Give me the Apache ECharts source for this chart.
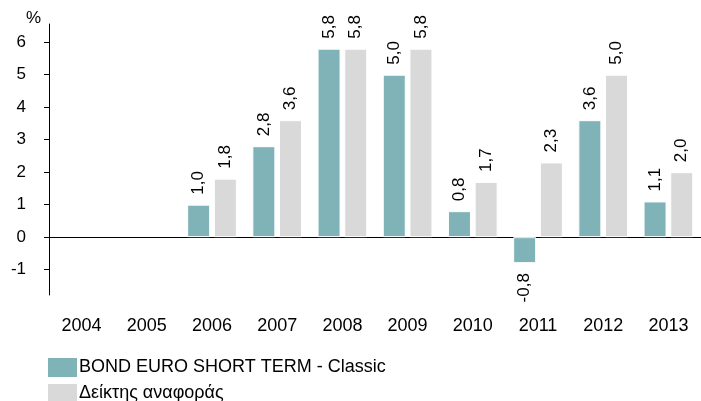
<!DOCTYPE html>
<html>
<head>
<meta charset="utf-8">
<script src="https://cdn.jsdelivr.net/npm/echarts@6/dist/echarts.min.js"></script>
<style>
  html, body { margin: 0; padding: 0; background: #fff; }
  #main { width: 701px; height: 401px; }
</style>
</head>
<body>
<div id="main"></div>
<script>
  // data
  var years = ['2004', '2005', '2006', '2007', '2008', '2009', '2010', '2011', '2012', '2013'];
  var fundValues = [null, null, 1.0, 2.8, 5.8, 5.0, 0.8, -0.8, 3.6, 1.1];
  var benchValues = [null, null, 1.8, 3.6, 5.8, 5.8, 1.7, 2.3, 5.0, 2.0];
  var yTicks = [-1, 0, 1, 2, 3, 4, 5, 6];
  var fundName = 'BOND EURO SHORT TERM - Classic';
  var benchName = 'Δείκτης αναφοράς';

  var font = 'Arial, "Liberation Sans", sans-serif';

  function fmt(p) {
    return p.value == null ? '' : p.value.toFixed(1).replace('.', ',');
  }

  // negative bars get their label under the bar
  function toItems(arr) {
    return arr.map(function (v) {
      if (v != null && v < 0) {
        return { value: v, label: { position: 'bottom', align: 'right' } };
      }
      return v;
    });
  }

  var barLabel = {
    show: true,
    position: 'top',
    rotate: 90,
    align: 'left',
    verticalAlign: 'middle',
    distance: 10,
    fontSize: 17,
    fontFamily: font,
    color: '#000',
    formatter: fmt
  };

  var chart = echarts.init(document.getElementById('main'));
  chart.setOption({
    animation: false,
    title: {
      text: '%',
      left: 26,
      top: 10,
      padding: 0,
      textStyle: { fontSize: 17, fontWeight: 'normal', fontFamily: font, color: '#000' }
    },
    legend: {
      orient: 'vertical',
      left: 46,
      top: 356,
      height: 80,
      padding: 0,
      itemWidth: 31,
      itemHeight: 21,
      itemGap: 3,
      icon: 'rect',
      data: [fundName, benchName],
      textStyle: { fontSize: 18, fontFamily: font, color: '#000', padding: [0, 0, 0, -4] }
    },
    grid: {
      left: 49,
      top: 24,
      width: 661,
      height: 271
    },
    xAxis: {
      type: 'category',
      data: years,
      axisLine: { onZero: true, lineStyle: { color: '#000', width: 1 } },
      axisTick: { show: false },
      axisLabel: { margin: 22, fontSize: 18, fontFamily: font, color: '#000' }
    },
    yAxis: {
      type: 'value',
      min: -1.78,
      max: 6.56,
      splitLine: { show: false },
      axisLine: { show: true, lineStyle: { color: '#000' } },
      axisTick: { show: true, length: 5, customValues: yTicks, lineStyle: { color: '#000' } },
      axisLabel: { customValues: yTicks, margin: 23, fontSize: 17, fontFamily: font, color: '#000' }
    },
    series: [
      {
        name: fundName,
        type: 'bar',
        data: toItems(fundValues),
        barWidth: 23,
        barGap: '16%',
        itemStyle: { color: '#7fb3b8', borderColor: '#fff', borderWidth: 1 },
        label: barLabel
      },
      {
        name: benchName,
        type: 'bar',
        data: toItems(benchValues),
        barWidth: 23,
        itemStyle: { color: '#d9d9d9', borderColor: '#fff', borderWidth: 1 },
        label: barLabel
      }
    ]
  });
</script>
</body>
</html>
